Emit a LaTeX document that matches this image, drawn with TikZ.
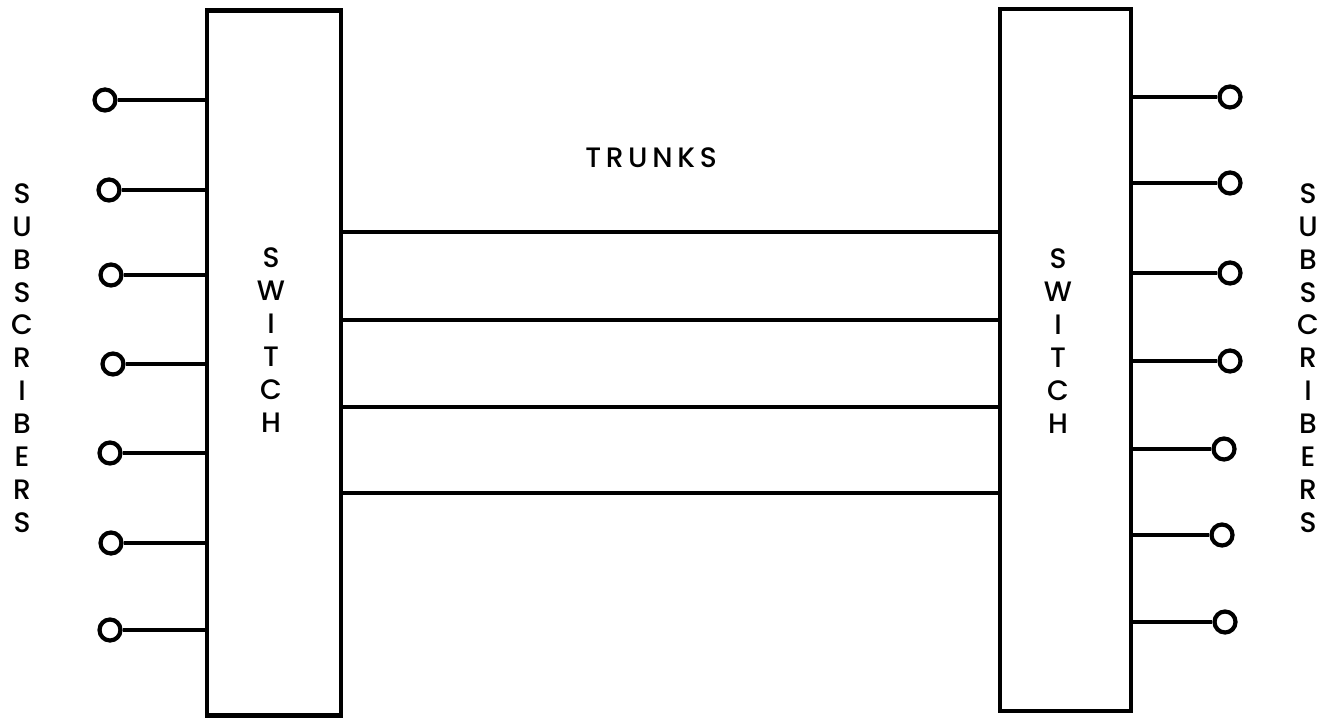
\documentclass[tikz,border=0pt]{standalone}
\usepackage{fontspec}
\setmainfont{Poppins}[UprightFont=* Medium]
\usepackage{tikz}
\usetikzlibrary{calc, positioning}

\begin{document}
\begin{tikzpicture}[
  x=0.02cm, y=-0.02cm,
  font=\fontsize{16}{18.7}\selectfont,
  switchbox/.style={draw, line width=2.4pt, minimum width=2.68cm,
                    minimum height=14.1cm, inner sep=0pt},
  term/.style={draw, circle, line width=2.4pt, minimum size=0.42cm, inner sep=0pt},
  wire/.style={line width=2.2pt},
  trunk/.style={line width=2.2pt},
  vlbl/.style={align=center, inner sep=0pt}
]
\useasboundingbox (0,0) rectangle (1338,719);

%% ——— Conmutadores ———
\node[switchbox] (lsw) at (274, 363) {};
\node[switchbox, minimum width=2.62cm, minimum height=14.04cm] (rsw) at (1065.5, 360) {};
\node[vlbl] (lswtxt) at (271, 340) {S\\W\\I\\T\\C\\H};
\node[vlbl] (rswtxt) at (1058, 341) {S\\W\\I\\T\\C\\H};

%% ——— Rótulos ———
\node[vlbl] (lsub) at (22, 358) {S\\U\\B\\S\\C\\R\\I\\B\\E\\R\\S};
\node[vlbl] (rsub) at (1308, 358) {S\\U\\B\\S\\C\\R\\I\\B\\E\\R\\S};
\node (trunks) at (651, 158) {T\,R\,U\,N\,K\,S};

%% ——— Abonados izquierda ———
\node[term] (l1) at (105, 100) {};
\node[term] (l2) at (109, 190) {};
\node[term] (l3) at (111, 275) {};
\node[term] (l4) at (113, 364) {};
\node[term] (l5) at (110, 453) {};
\node[term] (l6) at (111, 543) {};
\node[term] (l7) at (110, 630) {};

%% ——— Abonados derecha ———
\node[term] (r1) at (1230, 97) {};
\node[term] (r2) at (1230, 183) {};
\node[term] (r3) at (1230, 273) {};
\node[term] (r4) at (1230, 361) {};
\node[term] (r5) at (1224, 449) {};
\node[term] (r6) at (1222, 535) {};
\node[term] (r7) at (1225, 622) {};

%% ——— Líneas de abonado ———
\draw[wire] (l1) -- (l1 -| lsw.west);
\draw[wire] (l2) -- (l2 -| lsw.west);
\draw[wire] (l3) -- (l3 -| lsw.west);
\draw[wire] (l4) -- (l4 -| lsw.west);
\draw[wire] (l5) -- (l5 -| lsw.west);
\draw[wire] (l6) -- (l6 -| lsw.west);
\draw[wire] (l7) -- (l7 -| lsw.west);
\draw[wire] (r1) -- (r1 -| rsw.east);
\draw[wire] (r2) -- (r2 -| rsw.east);
\draw[wire] (r3) -- (r3 -| rsw.east);
\draw[wire] (r4) -- (r4 -| rsw.east);
\draw[wire] (r5) -- (r5 -| rsw.east);
\draw[wire] (r6) -- (r6 -| rsw.east);
\draw[wire] (r7) -- (r7 -| rsw.east);

%% ——— Troncales ———
\draw[trunk] (lsw.east |- 0,232) -- (rsw.west |- 0,232);
\draw[trunk] (lsw.east |- 0,320) -- (rsw.west |- 0,320);
\draw[trunk] (lsw.east |- 0,407) -- (rsw.west |- 0,407);
\draw[trunk] (lsw.east |- 0,493) -- (rsw.west |- 0,493);

\end{tikzpicture}
\end{document}
